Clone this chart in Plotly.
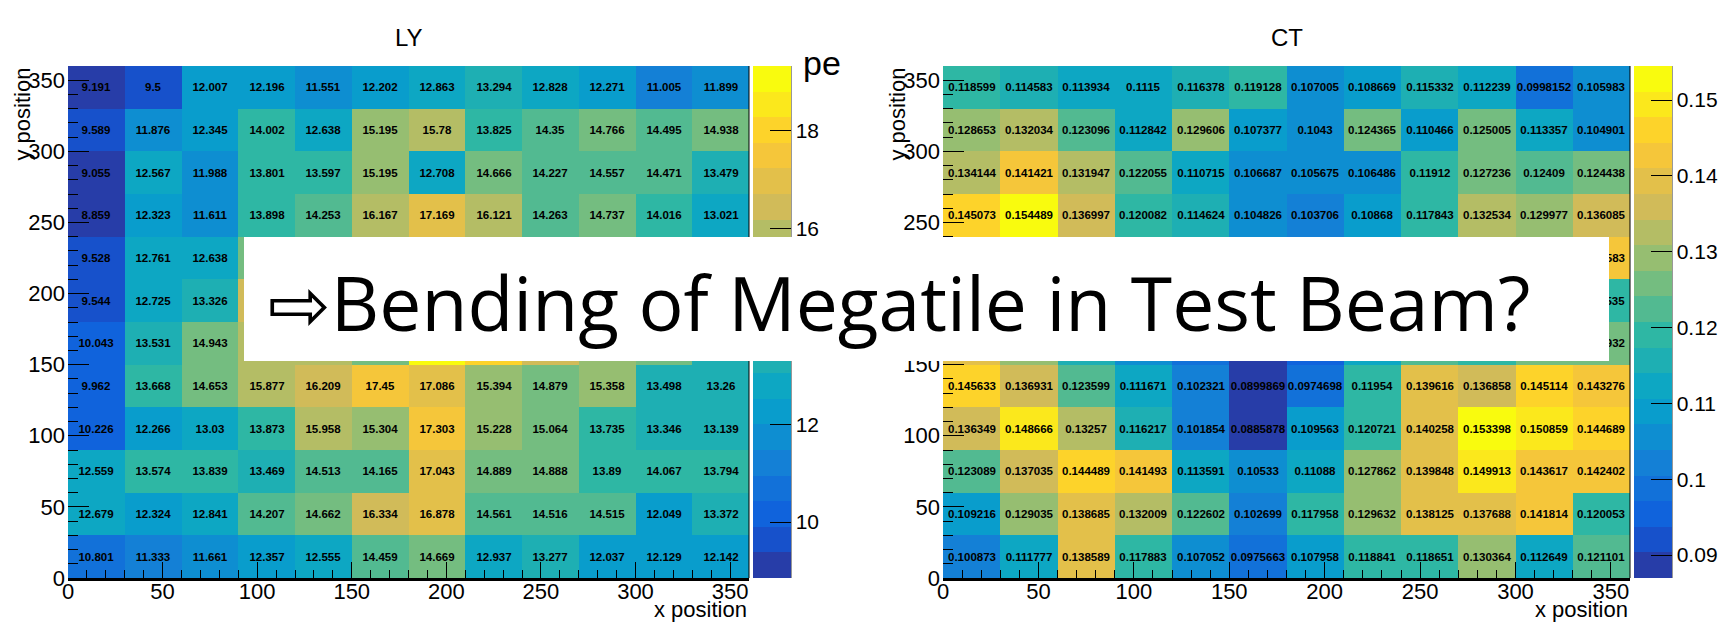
import plotly.graph_objects as go

W, H = 1729, 623

# bin centres (30 mm tiles), rows listed from bottom (y=15) to top (y=345)
x_centers = [15, 45, 75, 105, 135, 165, 195, 225, 255, 285, 315, 345]
y_centers = [15, 45, 75, 105, 135, 165, 195, 225, 255, 285, 315, 345]

ly_rows = [
    [10.801, 11.333, 11.661, 12.357, 12.555, 14.459, 14.669, 12.937, 13.277, 12.037, 12.129, 12.142],
    [12.679, 12.324, 12.841, 14.207, 14.662, 16.334, 16.878, 14.561, 14.516, 14.515, 12.049, 13.372],
    [12.559, 13.574, 13.839, 13.469, 14.513, 14.165, 17.043, 14.889, 14.888, 13.89, 14.067, 13.794],
    [10.226, 12.266, 13.03, 13.873, 15.958, 15.304, 17.303, 15.228, 15.064, 13.735, 13.346, 13.139],
    [9.962, 13.668, 14.653, 15.877, 16.209, 17.45, 17.086, 15.394, 14.879, 15.358, 13.498, 13.26],
    [10.043, 13.531, 14.943, 15.712, 16.018, 15.126, 19.318, 17.806, 16.254, 15.487, 14.832, 13.417],
    [9.544, 12.725, 13.326, 16.583, 15.641, 16.872, 18.104, 16.473, 15.036, 14.712, 14.219, 13.603],
    [9.528, 12.761, 12.638, 14.921, 14.547, 16.236, 17.412, 15.893, 14.618, 14.927, 14.306, 13.384],
    [8.859, 12.323, 11.611, 13.898, 14.253, 16.167, 17.169, 16.121, 14.263, 14.737, 14.016, 13.021],
    [9.055, 12.567, 11.988, 13.801, 13.597, 15.195, 12.708, 14.666, 14.227, 14.557, 14.471, 13.479],
    [9.589, 11.876, 12.345, 14.002, 12.638, 15.195, 15.78, 13.825, 14.35, 14.766, 14.495, 14.938],
    [9.191, 9.5, 12.007, 12.196, 11.551, 12.202, 12.863, 13.294, 12.828, 12.271, 11.005, 11.899],
]

ct_rows = [
    [0.100873, 0.111777, 0.138589, 0.117883, 0.107052, 0.0975663, 0.107958, 0.118841, 0.118651, 0.130364, 0.112649, 0.121101],
    [0.109216, 0.129035, 0.138685, 0.132009, 0.122602, 0.102699, 0.117958, 0.129632, 0.138125, 0.137688, 0.141814, 0.120053],
    [0.123089, 0.137035, 0.144489, 0.141493, 0.113591, 0.10533, 0.11088, 0.127862, 0.139848, 0.149913, 0.143617, 0.142402],
    [0.136349, 0.148666, 0.13257, 0.116217, 0.101854, 0.0885878, 0.109563, 0.120721, 0.140258, 0.153398, 0.150859, 0.144689],
    [0.145633, 0.136931, 0.123599, 0.111671, 0.102321, 0.0899869, 0.0974698, 0.11954, 0.139616, 0.136858, 0.145114, 0.143276],
    [0.138204, 0.127516, 0.115073, 0.106348, 0.0983427, 0.0869721, 0.0942516, 0.113287, 0.121065, 0.119384, 0.124172, 0.126932],
    [0.131258, 0.126047, 0.119316, 0.109254, 0.103182, 0.0962437, 0.101205, 0.109786, 0.115103, 0.117249, 0.116214, 0.119535],
    [0.139817, 0.146352, 0.131209, 0.117462, 0.109173, 0.102836, 0.0995142, 0.105246, 0.115391, 0.129627, 0.131845, 0.142583],
    [0.145073, 0.154489, 0.136997, 0.120082, 0.114624, 0.104826, 0.103706, 0.10868, 0.117843, 0.132534, 0.129977, 0.136085],
    [0.134144, 0.141421, 0.131947, 0.122055, 0.110715, 0.106687, 0.105675, 0.106486, 0.11912, 0.127236, 0.12409, 0.124438],
    [0.128653, 0.132034, 0.123096, 0.112842, 0.129606, 0.107377, 0.1043, 0.124365, 0.110466, 0.125005, 0.113357, 0.104901],
    [0.118599, 0.114583, 0.113934, 0.1115, 0.116378, 0.119128, 0.107005, 0.108669, 0.115332, 0.112239, 0.0998152, 0.105983],
]

axis_ticks = [0, 50, 100, 150, 200, 250, 300, 350]
ly_bar_ticks = [10, 12, 14, 16, 18]
ly_bar_labels = ["10", "12", "14", "16", "18"]
ct_bar_ticks = [0.09, 0.10, 0.11, 0.12, 0.13, 0.14, 0.15]
ct_bar_labels = ["0.09", "0.1", "0.11", "0.12", "0.13", "0.14", "0.15"]

# ---- "bird" palette sampled into 20 contour levels ----
BIRD_STOPS = [0.0, 0.125, 0.25, 0.375, 0.5, 0.625, 0.75, 0.875, 1.0]
BIRD_R = [0.2082, 0.0592, 0.0780, 0.0232, 0.1802, 0.5301, 0.8186, 0.9956, 0.9764]
BIRD_G = [0.1664, 0.3599, 0.5041, 0.6419, 0.7178, 0.7492, 0.7328, 0.7862, 0.9832]
BIRD_B = [0.5293, 0.8684, 0.8385, 0.7914, 0.6425, 0.4662, 0.3499, 0.1968, 0.0539]


def bird(t):
    for k in range(len(BIRD_STOPS) - 1):
        a, b = BIRD_STOPS[k], BIRD_STOPS[k + 1]
        if t <= b or k == len(BIRD_STOPS) - 2:
            f = (t - a) / (b - a)
            r = BIRD_R[k] + f * (BIRD_R[k + 1] - BIRD_R[k])
            g = BIRD_G[k] + f * (BIRD_G[k + 1] - BIRD_G[k])
            bl = BIRD_B[k] + f * (BIRD_B[k + 1] - BIRD_B[k])
            return f"rgb({round(r*255)},{round(g*255)},{round(bl*255)})"


N_LEVELS = 20
N_COLORS = 255
colorscale = []
for i in range(N_LEVELS):
    idx = min(int((i + 0.99) * N_COLORS / N_LEVELS), N_COLORS - 1)
    c = bird(idx / (N_COLORS - 1))
    colorscale.append([i / N_LEVELS, c])
    colorscale.append([(i + 1) / N_LEVELS, c])


def px(x):
    return x / W


def py(y):
    return 1 - y / H


FONT = "Liberation Sans, Arial, Helvetica, sans-serif"

# frame positions (pixels)
L_X0, L_X1 = 68, 749
R_X0, R_X1 = 943, 1630
Y_TOP, Y_BOT = 66, 578


def fmt(rows):
    return [[f"{v:g}" for v in row] for row in rows]


def flat_min(rows):
    return min(min(r) for r in rows)


def flat_max(rows):
    return max(max(r) for r in rows)


def cbar(x_left, tickvals, ticktext):
    return dict(
        x=px(x_left), xanchor="left", xref="paper",
        y=py(Y_TOP), yanchor="top", yref="paper",
        len=(Y_BOT - Y_TOP) / H, lenmode="fraction",
        thickness=38, thicknessmode="pixels",
        xpad=0, ypad=0, outlinewidth=0,
        tickmode="array", tickvals=tickvals, ticktext=ticktext,
        ticks="inside", ticklen=21, tickwidth=1, tickcolor="black",
        tickfont=dict(family=FONT, size=21, color="black"),
    )


fig = go.Figure()

fig.add_trace(go.Heatmap(
    x=x_centers, y=y_centers, z=ly_rows,
    zmin=flat_min(ly_rows), zmax=flat_max(ly_rows),
    colorscale=colorscale,
    text=fmt(ly_rows), texttemplate="%{text}",
    textfont=dict(family=FONT, size=11.5, color="black", weight="bold"),
    colorbar=cbar(753, ly_bar_ticks, ly_bar_labels),
    hoverinfo="skip", xaxis="x", yaxis="y",
))

fig.add_trace(go.Heatmap(
    x=x_centers, y=y_centers, z=ct_rows,
    zmin=flat_min(ct_rows), zmax=flat_max(ct_rows),
    colorscale=colorscale,
    text=fmt(ct_rows), texttemplate="%{text}",
    textfont=dict(family=FONT, size=11.5, color="black", weight="bold"),
    colorbar=cbar(1634, ct_bar_ticks, ct_bar_labels),
    hoverinfo="skip", xaxis="x2", yaxis="y2",
))

xaxis_common = dict(
    range=[0, 360], tickmode="array", tickvals=axis_ticks,
    ticks="inside", ticklen=16, tickwidth=1, tickcolor="black",
    minor=dict(dtick=10, tick0=0, ticks="inside", ticklen=8, tickwidth=1, tickcolor="black"),
    showgrid=False, zeroline=False,
    showline=True, linewidth=2.5, linecolor="black",
    tickfont=dict(family=FONT, size=22, color="black"),
    ticklabelstandoff=-8,
)
yaxis_common = dict(
    range=[0, 360], tickmode="array", tickvals=axis_ticks,
    ticks="inside", ticklen=21, tickwidth=1, tickcolor="black",
    minor=dict(dtick=10, tick0=0, ticks="inside", ticklen=10, tickwidth=1, tickcolor="black"),
    showgrid=False, zeroline=False, showline=False,
    tickfont=dict(family=FONT, size=22, color="black"),
    ticklabelstandoff=2,
    domain=[py(Y_BOT), py(Y_TOP)],
)

fig.update_layout(
    width=W, height=H, autosize=False,
    margin=dict(l=0, r=0, t=0, b=0, autoexpand=False),
    paper_bgcolor="white", plot_bgcolor="white",
    showlegend=False,
    xaxis=dict(xaxis_common, domain=[px(L_X0), px(L_X1)], anchor="y"),
    yaxis=dict(yaxis_common, anchor="x"),
    xaxis2=dict(xaxis_common, domain=[px(R_X0), px(R_X1)], anchor="y2"),
    yaxis2=dict(yaxis_common, anchor="x2"),
)

# right-hand frame edge of each pad and of each palette
shapes = []
for xref, yref in (("x domain", "y domain"), ("x2 domain", "y2 domain")):
    shapes.append(dict(type="line", xref=xref, yref=yref, x0=1, x1=1, y0=0, y1=1,
                       line=dict(color="black", width=1)))
for xr in (753 + 38, 1634 + 38):
    shapes.append(dict(type="line", xref="paper", yref="paper", x0=px(xr), x1=px(xr),
                       y0=py(Y_BOT), y1=py(Y_TOP), line=dict(color="#333333", width=1)))
fig.update_layout(shapes=shapes)

annotations = []
# pad titles
for cx, title in (((L_X0 + L_X1) / 2, "LY"), ((R_X0 + R_X1) / 2, "CT")):
    annotations.append(dict(text=title, x=px(cx), y=py(38), xref="paper", yref="paper",
                            xanchor="center", yanchor="middle", showarrow=False,
                            font=dict(family=FONT, size=24, color="black")))
# axis titles
for x_right in (L_X1, R_X1):
    annotations.append(dict(text="x position", x=px(x_right), y=py(609), xref="paper", yref="paper",
                            xanchor="right", yanchor="middle", showarrow=False,
                            font=dict(family=FONT, size=22, color="black")))
for x_left in (L_X0, R_X0):
    annotations.append(dict(text="y position", x=px(x_left - 46), y=py(Y_TOP), xref="paper", yref="paper",
                            xanchor="center", yanchor="top", textangle=-90, showarrow=False,
                            font=dict(family=FONT, size=22, color="black")))
# z-axis unit of the light-yield palette
annotations.append(dict(text="pe", x=px(801), y=py(63), xref="paper", yref="paper",
                        xanchor="left", yanchor="middle", showarrow=False,
                        font=dict(family=FONT, size=34, color="black")))
# white call-out box with its question
annotations.append(dict(text=" ", x=px(244), y=py(237), xref="paper", yref="paper",
                        xanchor="left", yanchor="top", width=1609 - 244, height=361 - 237,
                        bgcolor="white", borderpad=0, borderwidth=0, showarrow=False,
                        font=dict(size=10)))
annotations.append(dict(text="\u21e8Bending of Megatile in Test Beam?", x=px(266), y=py(302),
                        xref="paper", yref="paper", xanchor="left", yanchor="middle",
                        showarrow=False,
                        font=dict(family="Open Sans, DejaVu Sans, sans-serif", size=75, color="black")))
fig.update_layout(annotations=annotations)

fig.write_html("out.html")
